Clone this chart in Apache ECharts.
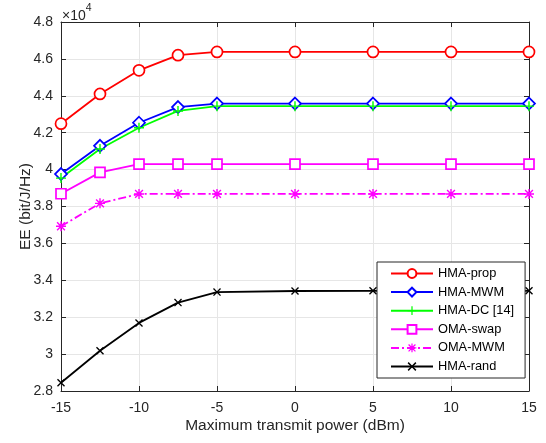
<!DOCTYPE html>
<html><head><meta charset="utf-8">
<script src="https://cdn.jsdelivr.net/npm/echarts@6/dist/echarts.min.js"></script>
<style>html,body{margin:0;padding:0;background:#fff}#c{width:546px;height:443px}</style>
</head><body><div id="c"></div>
<script>
const power = [-15, -12.5, -10, -7.5, -5, 0, 5, 10, 15];
const hmaProp = [42490, 44100, 45380, 46200, 46380, 46380, 46380, 46380, 46380];
const hmaMWM  = [39760, 41290, 42540, 43390, 43580, 43580, 43580, 43580, 43580];
const hmaDC   = [39540, 41120, 42270, 43180, 43440, 43440, 43440, 43440, 43440];
const omaSwap = [38690, 39850, 40300, 40300, 40300, 40300, 40300, 40300, 40300];
const omaMWM  = [36930, 38170, 38680, 38680, 38680, 38680, 38680, 38680, 38680];
const hmaRand = [28450, 30180, 31690, 32790, 33360, 33420, 33430, 33430, 33430];
const yTicks = [2.8, 3, 3.2, 3.4, 3.6, 3.8, 4, 4.2, 4.4, 4.6, 4.8];

const plusPath = 'path://M4.3,0H5.7V4.3H10V5.7H5.7V10H4.3V5.7H0V4.3H4.3Z';
const xPath = 'path://M0,1.2L1.2,0L5,3.8L8.8,0L10,1.2L6.2,5L10,8.8L8.8,10L5,6.2L1.2,10L0,8.8L3.8,5Z';
const astPath = 'path://M4.3,0H5.7V4.3H10V5.7H5.7V10H4.3V5.7H0V4.3H4.3Z M0.6,1.6L1.6,0.6L5,4L8.4,0.6L9.4,1.6L6,5L9.4,8.4L8.4,9.4L5,6L1.6,9.4L0.6,8.4L4,5Z';

const txt = '#262626';
const font = 'Liberation Sans, Arial, Helvetica, sans-serif';
function pts(arr){ return power.map((p,i)=>[p, arr[i]]); }
function ser(name, arr, color, symbol, size, dash, filled){
  return {
    name, type:'line', data: pts(arr), symbol, symbolSize: size,
    showAllSymbol: true,
    lineStyle:{color, width:1.8, type: dash||'solid'},
    itemStyle:{color: filled ? color : '#fff', borderColor: color, borderWidth: filled ? 0 : 1.7},
    emphasis:{disabled:true}, z: 3
  };
}
const series = [
  ser('HMA-prop', hmaProp, '#ff0000', 'circle', 11, null, false),
  ser('HMA-MWM', hmaMWM, '#0000ff', 'diamond', 12, null, false),
  ser('HMA-DC [14]', hmaDC, '#00ff00', plusPath, 10, null, true),
  ser('OMA-swap', omaSwap, '#ff00ff', 'rect', 10, null, false),
  ser('OMA-MWM', omaMWM, '#ff00ff', astPath, 10, [8,3,2,3], true),
  ser('HMA-rand', hmaRand, '#000000', xPath, 8, null, true)
];

const chart = echarts.init(document.getElementById('c'), null, {renderer:'canvas'});
const axisLine = {show:true, onZero:false, lineStyle:{color:txt, width:1}};
chart.setOption({
  animation:false,
  backgroundColor:'#fff',
  textStyle:{fontFamily:font, color:txt},
  grid:{left:61, top:22, right:17, bottom:52},
  legend:{
    orient:'vertical', left:377, top:262, width:149,
    padding:[5,11,5,13], itemGap:5.6, itemWidth:42, itemHeight:11,
    backgroundColor:'#fff', borderColor:txt, borderWidth:1,
    textStyle:{fontFamily:font, fontSize:12.8, color:'#000'},
    data: series.map(s=>s.name), selectedMode:false
  },
  xAxis:[{
    type:'value', min:-15, max:15, interval:5,
    name:'Maximum transmit power (dBm)', nameLocation:'middle', nameGap:27,
    nameMoveOverlap:false,
    nameTextStyle:{fontSize:15.5, color:txt, fontFamily:font},
    axisLine, axisTick:{show:true, inside:true, length:5, lineStyle:{color:txt}},
    axisLabel:{fontSize:14, color:txt, margin:10, fontFamily:font},
    splitLine:{show:true, lineStyle:{color:'#e6e6e6', width:1}}
  },{
    type:'value', position:'top', min:-15, max:15, interval:5,
    axisLine, axisTick:{show:true, inside:true, length:5, lineStyle:{color:txt}},
    axisLabel:{show:false}, splitLine:{show:false}
  }],
  yAxis:[{
    type:'value', min:28000, max:48000, interval:2000,
    name:'EE (bit/J/Hz)', nameLocation:'middle', nameGap:27,
    nameMoveOverlap:false,
    nameTextStyle:{fontSize:15.5, color:txt, fontFamily:font},
    axisLine, axisTick:{show:true, inside:true, length:5, lineStyle:{color:txt}},
    axisLabel:{fontSize:14, color:txt, margin:8, fontFamily:font,
      formatter:(v)=>{ const t = yTicks.find(k=>Math.abs(k*10000-v)<1); return t===undefined ? '' : String(t); }},
    splitLine:{show:true, lineStyle:{color:'#e6e6e6', width:1}}
  },{
    type:'value', position:'right', min:28000, max:48000, interval:2000,
    axisLine, axisTick:{show:true, inside:true, length:5, lineStyle:{color:txt}},
    axisLabel:{show:false}, splitLine:{show:false}
  }],
  graphic:[{
    type:'text', left:62, top:3,
    style:{
      text:'{a|×10}{b|4}',
      rich:{
        a:{fontSize:14, fontFamily:font, fill:txt, verticalAlign:'bottom', padding:[6,0,0,0]},
        b:{fontSize:10.5, fontFamily:font, fill:txt, verticalAlign:'top'}
      }
    }
  }],
  series
});
</script></body></html>
